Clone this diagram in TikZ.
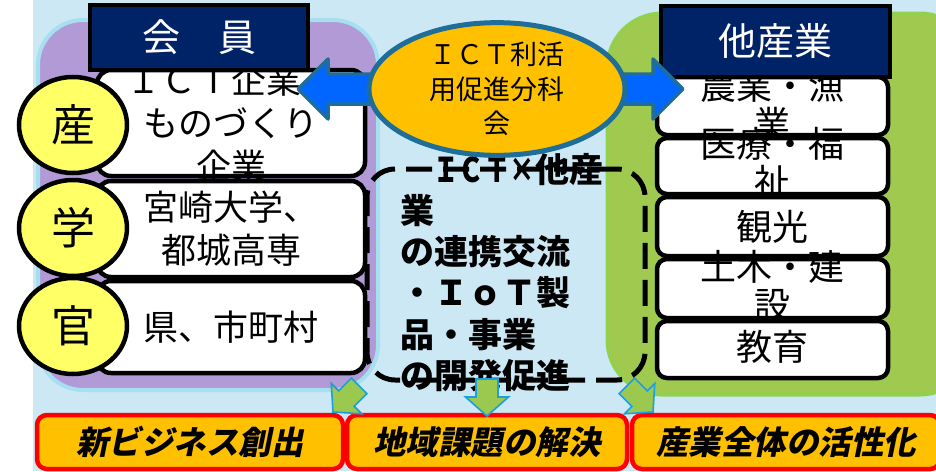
\documentclass[tikz,border=0pt]{standalone}
\usepackage{fontspec}
\usepackage{graphicx}
\setmainfont{Noto Sans CJK JP}
\newfontfamily\jpsl{Noto Sans CJK JP}[FakeSlant=0.2]
\usetikzlibrary{shapes.geometric}
\definecolor{bgblue}{HTML}{CCE8F4}
\definecolor{purp}{HTML}{B19AD6}
\definecolor{purpedge}{HTML}{A5DFF0}
\definecolor{grn}{HTML}{9FC94F}
\definecolor{grnedge}{HTML}{92D050}
\definecolor{navy}{HTML}{002266}
\definecolor{cyell}{HTML}{FFFF66}
\definecolor{corange}{HTML}{FFC000}
\definecolor{tealedge}{HTML}{1F6E99}
\definecolor{bblue}{HTML}{0066FF}
\definecolor{agreen}{HTML}{9BC84F}
\definecolor{ablue}{HTML}{1AA0E0}
\begin{document}
\begin{tikzpicture}[x=1pt,y=-1pt,
  region/.style={line width=4pt},
  lbox/.style={rectangle, draw=black, line width=4.5pt, fill=white, rounded corners=14pt, minimum width=268pt, inner sep=0},
  circ/.style={ellipse, draw=black, line width=4.5pt, fill=cyell, minimum width=108pt, minimum height=96pt, inner sep=0, font=\fontsize{44}{44}\selectfont},
  hdr/.style={rectangle, draw=black, line width=4pt, fill=navy, text=white, inner sep=0, font=\fontsize{38}{38}\selectfont},
  ltxt/.style={align=center, inner sep=0, font=\fontsize{35}{43}\selectfont},
  rbox/.style={rectangle, draw=black, line width=4.5pt, fill=white, rounded corners=10pt, minimum width=231pt, inner sep=0},
  rtxt/.style={align=center, inner sep=0, font=\fontsize{36}{38}\selectfont},
  dbox/.style={rectangle, draw=black, line width=5pt, dash pattern=on 26pt off 11pt, rounded corners=28pt, inner sep=0},
  obox/.style={rectangle, draw=red, line width=4.5pt, fill=corange, rounded corners=10pt, minimum height=54pt, inner sep=0, font=\jpsl\bfseries\fontsize{32.5}{32.5}\selectfont},
  sarrow/.style={fill=agreen, draw=ablue, line width=1.6pt, line join=miter},
  barrow/.style={fill=bblue, draw=tealedge, line width=3.5pt, line join=round}
]
\useasboundingbox (0,0) rectangle (936,471);
\clip (0,0) rectangle (936,471);
\fill[white] (0,0) rectangle (936,471);
\fill[bgblue] (33,0) rectangle (936,471);

% regions
\draw[region, draw=purpedge, fill=purp, rounded corners=45pt] (38,20) rectangle (378,390);
\draw[region, line width=3pt, draw=grnedge, fill=grn, rounded corners=55pt] (607,13) rectangle (975,395);

% left member boxes
\node[lbox, minimum height=106pt] (m1) at (231,123) {};
\node[ltxt] (m1t) at (m1.center) {ＩＣＴ企業・\\ものづくり\\企業};
\node[lbox, minimum height=96pt] (m2) at (231,229) {};
\node[ltxt] (m2t) at (m2.center) {宮崎大学、\\都城高専};
\node[lbox, minimum height=92pt] (m3) at (231,327) {};
\node[ltxt] (m3t) at (m3.center) {県、市町村};

\node[circ] (c1) at (73,125) {産};
\node[circ] (c2) at (73,228) {学};
\node[circ] (c3) at (73,326) {官};

% right industry boxes
\node[rbox, minimum height=58pt] (r1) at (772.5,106) {};
\node[rtxt] (r1t) at (772.5,105) {農業・漁\\業};
\node[rbox, minimum height=56pt] (r2) at (772.5,166) {};
\node[rtxt] (r2t) at (772.5,163) {医療・福\\祉};
\node[rbox, minimum height=59pt] (r3) at (772.5,226.5) {};
\node[rtxt] (r3t) at (r3.center) {観光};
\node[rbox, minimum height=59pt] (r4) at (772.5,288.5) {};
\node[rtxt] (r4t) at (772.5,286) {土木・建\\設};
\node[rbox, minimum height=57pt] (r5) at (772.5,349.5) {};
\node[rtxt] (r5t) at (772.5,347) {教育};

% headers
\node[hdr, minimum width=218pt, minimum height=65pt] (h1) at (199,37.5) {会　員};
\node[hdr, minimum width=229pt, minimum height=71pt] (h2) at (775.5,41.5) {他産業};

% dashed box
\node[dbox, minimum width=278pt, minimum height=211pt] (db) at (506,274.5) {};
\node[anchor=north west, inner sep=0, align=left, font=\bfseries\fontsize{34}{41.2}\selectfont] (dbt) at (400,153)
  {\hspace*{33pt}\scalebox{0.75}[1]{ＩＣＴ×}他産\\業\\の連携交流\\・ＩｏＴ製\\品・事業\\の開発促進};

% blue double arrow
\draw[barrow] (298,89) -- (328,59) -- (328,74) -- (653,74) -- (653,59) -- (683,89)
  -- (653,119) -- (653,104) -- (328,104) -- (328,119) -- cycle;

% central ellipse
\node[ellipse, draw=tealedge, line width=5pt, fill=corange, minimum width=256pt, minimum height=128pt,
  inner sep=0, align=center, font=\fontsize{27}{34.5}\selectfont] (sci) at (497,89) {ＩＣＴ利活\\用促進分科\\会};

% bottom result boxes
\node[obox, minimum width=306pt] (b1) at (190,442) {新ビジネス創出};
\node[obox, minimum width=280pt] (b2) at (487,442) {地域課題の解決};
\node[obox, minimum width=308pt] (b3) at (786,442) {産業全体の活性化};

% small green arrows
\begin{scope}[shift={(333,412)}, rotate=-45]
  \draw[sarrow] (0,0) -- (-21.5,-19) -- (-11,-19) -- (-11,-37) -- (11,-37) -- (11,-19) -- (21.5,-19) -- cycle;
\end{scope}
\begin{scope}[shift={(487,416)}]
  \draw[sarrow] (0,0) -- (-21.5,-19) -- (-11,-19) -- (-11,-37) -- (11,-37) -- (11,-19) -- (21.5,-19) -- cycle;
\end{scope}
\begin{scope}[shift={(653,412)}, rotate=45]
  \draw[sarrow] (0,0) -- (-21.5,-19) -- (-11,-19) -- (-11,-37) -- (11,-37) -- (11,-19) -- (21.5,-19) -- cycle;
\end{scope}
\end{tikzpicture}
\end{document}
